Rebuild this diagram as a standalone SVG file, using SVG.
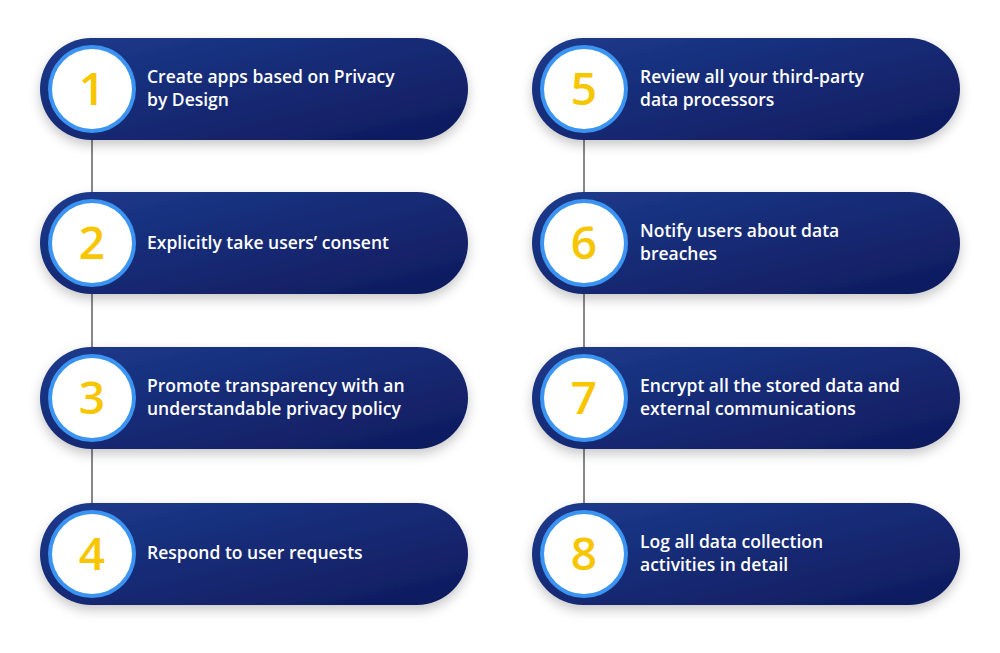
<svg xmlns="http://www.w3.org/2000/svg" width="1000" height="653" viewBox="0 0 1000 653">
<defs>
<linearGradient id="g" x1="0" y1="0" x2="1" y2="1"><stop offset="0" stop-color="#1c3a8c"/><stop offset="1" stop-color="#0f1a5c"/></linearGradient>
<filter id="sh" x="-10%" y="-20%" width="120%" height="150%"><feDropShadow dx="0" dy="5" stdDeviation="6" flood-color="#000" flood-opacity="0.22"/></filter>
<g id="n"><rect x="-52" y="-51" width="428" height="102" rx="51" fill="url(#g)" filter="url(#sh)"/><circle r="44" fill="#3b94f2"/><circle r="40" fill="#fff"/></g>
</defs>
<style>
.t{font-family:"Open Sans","Liberation Sans",sans-serif;font-weight:600;font-size:17.5px;fill:#fff}
.d{font-family:"Open Sans","Liberation Sans",sans-serif;font-weight:600;font-size:46px;fill:#f7c600;text-anchor:middle}
</style>
<rect width="1000" height="653" fill="#fff"/>
<g id="connectors" stroke="#111" stroke-width="1">
<line x1="92" y1="140" x2="92" y2="192"/><line x1="92" y1="294" x2="92" y2="347"/><line x1="92" y1="449" x2="92" y2="503"/>
<line x1="584" y1="140" x2="584" y2="192"/><line x1="584" y1="294" x2="584" y2="347"/><line x1="584" y1="449" x2="584" y2="503"/>
</g>
<g id="n1" transform="translate(92,89)"><use href="#n"/><text class="d" y="16">1</text><text class="t" x="55" y="-6">Create apps based on Privacy</text><text class="t" x="55" y="17">by Design</text></g>
<g id="n2" transform="translate(92,243)"><use href="#n"/><text class="d" y="16">2</text><text class="t" x="55" y="6">Explicitly take users’ consent</text></g>
<g id="n3" transform="translate(92,398)"><use href="#n"/><text class="d" y="16">3</text><text class="t" x="55" y="-6">Promote transparency with an</text><text class="t" x="55" y="17">understandable privacy policy</text></g>
<g id="n4" transform="translate(92,554)"><use href="#n"/><text class="d" y="16">4</text><text class="t" x="55" y="5">Respond to user requests</text></g>
<g id="n5" transform="translate(584,89)"><use href="#n"/><text class="d" y="16">5</text><text class="t" x="56" y="-6">Review all your third-party</text><text class="t" x="56" y="17">data processors</text></g>
<g id="n6" transform="translate(584,243)"><use href="#n"/><text class="d" y="16">6</text><text class="t" x="56" y="-6">Notify users about data</text><text class="t" x="56" y="17">breaches</text></g>
<g id="n7" transform="translate(584,398)"><use href="#n"/><text class="d" y="16">7</text><text class="t" x="56" y="-6">Encrypt all the stored data and</text><text class="t" x="56" y="17">external communications</text></g>
<g id="n8" transform="translate(584,554)"><use href="#n"/><text class="d" y="16">8</text><text class="t" x="56" y="-6">Log all data collection</text><text class="t" x="56" y="17">activities in detail</text></g>
</svg>
